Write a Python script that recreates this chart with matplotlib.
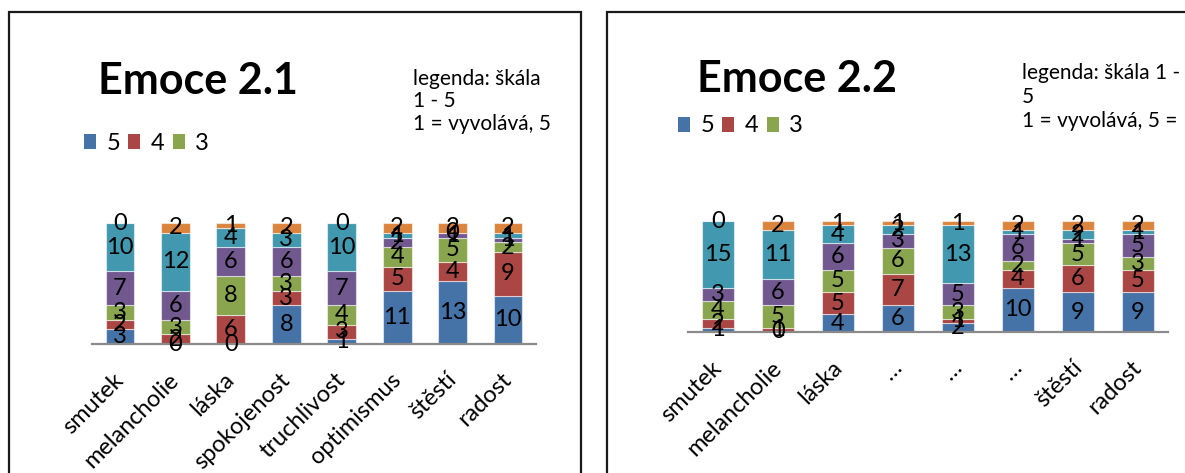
import numpy as np
import matplotlib
matplotlib.use("Agg")
import matplotlib.pyplot as plt
from matplotlib.patches import Rectangle, Patch
from matplotlib.transforms import ScaledTranslation

plt.rcParams['font.family'] = ['Lato', 'DejaVu Sans']

# answer levels on the 1-5 scale (0 = no answer), stacked bottom to top
levels = ['5', '4', '3', '2', '1', '0']
colors = ['#4572A7', '#AA4643', '#89A54E', '#71588F', '#4198AF', '#DB843D']

# Emoce 2.1
cats_21 = ['smutek', 'melancholie', 'láska', 'spokojenost', 'truchlivost',
           'optimismus', 'štěstí', 'radost']
e21_5 = [3, 0, 0, 8, 1, 11, 13, 10]
e21_4 = [2, 2, 6, 3, 3, 5, 4, 9]
e21_3 = [3, 3, 8, 3, 4, 4, 5, 2]
e21_2 = [7, 6, 6, 6, 7, 2, 1, 1]
e21_1 = [10, 12, 4, 3, 10, 1, 0, 1]
e21_0 = [0, 2, 1, 2, 0, 2, 2, 2]

# Emoce 2.2
cats_22 = ['smutek', 'melancholie', 'láska', '…', '…', '…', 'štěstí', 'radost']
e22_5 = [1, 0, 4, 6, 2, 10, 9, 9]
e22_4 = [2, 1, 5, 7, 1, 4, 6, 5]
e22_3 = [4, 5, 5, 6, 3, 2, 5, 3]
e22_2 = [3, 6, 6, 3, 5, 6, 1, 5]
e22_1 = [15, 11, 4, 2, 13, 1, 2, 1]
e22_0 = [0, 2, 1, 1, 1, 2, 2, 2]

# side notes, one entry per line
note_21 = ['legenda: škála', '1 - 5', '1 = vyvolává, 5']
note_22 = ['legenda: škála 1 -', '5', '1 = vyvolává, 5 =']

W, H = 1185, 473
fig = plt.figure(figsize=(W / 100, H / 100), dpi=100)


def fx(px):
    return px / W


def fy(py):
    return 1 - py / H


def panel(rect, cats, series):
    ax = fig.add_axes(rect)
    x = np.arange(len(cats))
    bottom = np.zeros(len(cats))
    for vals, col in zip(series, colors):
        vals = np.asarray(vals, dtype=float)
        ax.bar(x, vals, 0.52, bottom=bottom, color=col,
               edgecolor=(1, 1, 1, 0.55), linewidth=0.8)
        for xi, b, v in zip(x, bottom, vals):
            ax.text(xi, b + v / 2, str(int(v)), ha='center', va='center',
                    fontsize=17, color='black', clip_on=False)
        bottom += vals
    ax.set_xlim(-0.5, len(cats) - 0.5)
    ax.set_ylim(0, 25)
    for s in ('left', 'right', 'top'):
        ax.spines[s].set_visible(False)
    ax.spines['bottom'].set_color('#8a8a8a')
    ax.spines['bottom'].set_linewidth(1.6)
    ax.set_yticks([])
    ax.set_xticks(x, cats, rotation=45, ha='right', va='top',
                  rotation_mode='anchor', fontsize=17)
    ax.tick_params(axis='x', length=0, pad=18)
    shift = ScaledTranslation(-7 / 100, 0, fig.dpi_scale_trans)
    for lbl in ax.get_xticklabels():
        lbl.set_transform(lbl.get_transform() + shift)
    return ax


ax1 = panel([fx(92.3), fy(344), fx(443.4), 121 / H], cats_21,
            [e21_5, e21_4, e21_3, e21_2, e21_1, e21_0])
ax2 = panel([fx(688), fy(332), fx(480), 111 / H], cats_22,
            [e22_5, e22_4, e22_3, e22_2, e22_1, e22_0])

# chart frames
fig.patches.append(Rectangle((fx(9), -0.1), fx(581 - 9), fy(12) + 0.1,
                             transform=fig.transFigure, fill=False,
                             edgecolor='#1a1a1a', linewidth=1.6))
fig.patches.append(Rectangle((fx(607), -0.1), 0.6, fy(12) + 0.1,
                             transform=fig.transFigure, fill=False,
                             edgecolor='#1a1a1a', linewidth=1.6))

# titles
fig.text(fx(198), fy(81), 'Emoce 2.1', ha='center', va='center',
         fontsize=31, fontweight='bold')
fig.text(fx(797), fy(79), 'Emoce 2.2', ha='center', va='center',
         fontsize=31, fontweight='bold')

# notes
for line, py in zip(note_21, (79, 101, 124)):
    fig.text(fx(413), fy(py), line, ha='left', va='center', fontsize=15)
for line, py in zip(note_22, (73, 97, 121)):
    fig.text(fx(1022), fy(py), line, ha='left', va='center', fontsize=15)

# legends (only the first three levels fit)
handles = [Patch(facecolor=c) for c in colors[:3]]
for (lx, ly) in ((84, 143), (678, 126)):
    fig.legend(handles, levels[:3], loc='center left',
               bbox_to_anchor=(fx(lx), fy(ly)), ncol=3, frameon=False,
               fontsize=17, handlelength=0.5, handleheight=0.6,
               handletextpad=0.45, columnspacing=0.35,
               borderpad=0, borderaxespad=0)

fig.savefig('out.png', dpi=100)
